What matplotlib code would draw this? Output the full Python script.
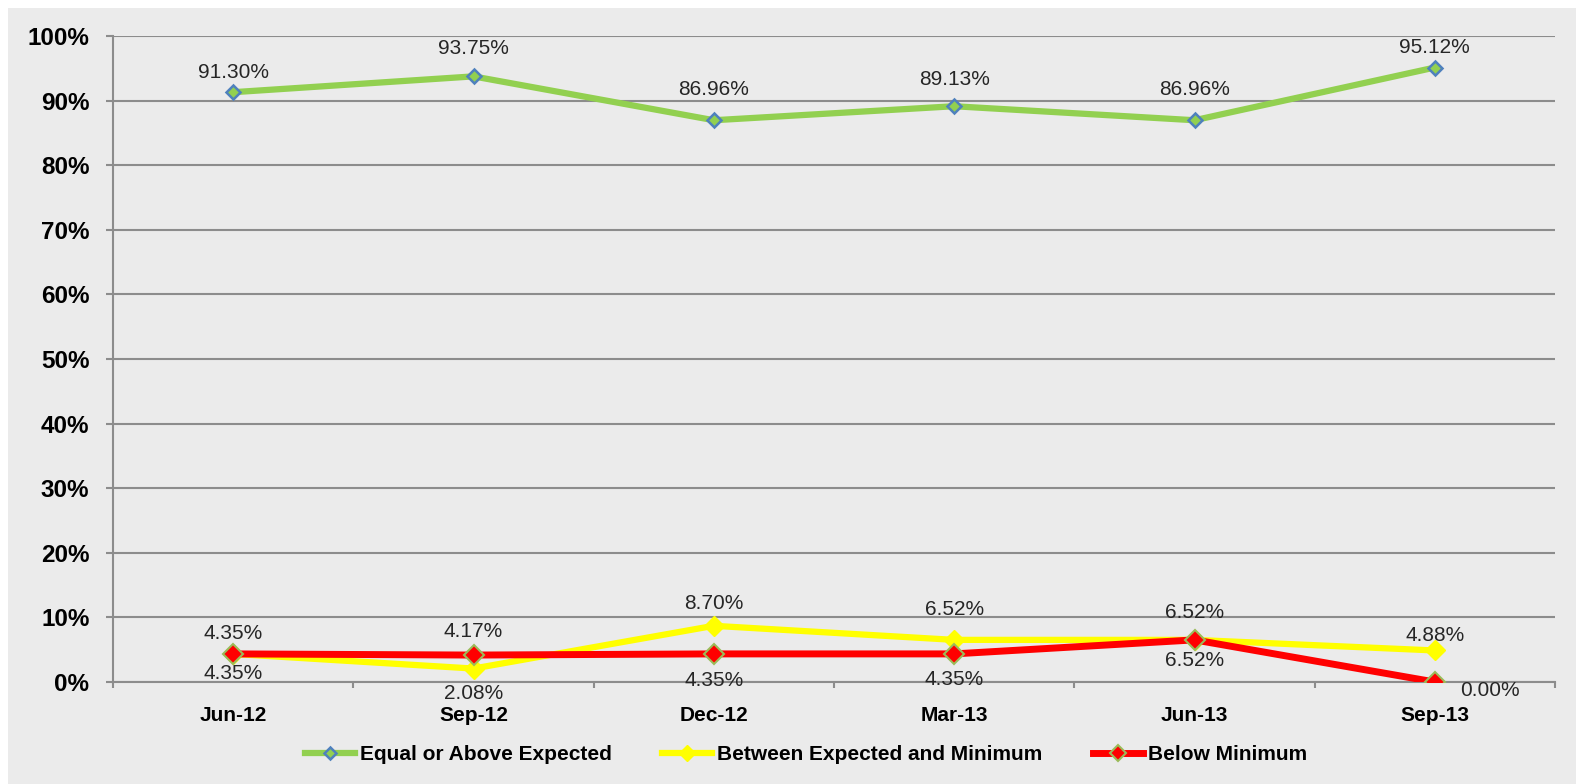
import matplotlib.pyplot as plt
from matplotlib.patches import Rectangle
from matplotlib.ticker import FixedLocator, PercentFormatter

# data (percent)
quarters = ['Jun-12', 'Sep-12', 'Dec-12', 'Mar-13', 'Jun-13', 'Sep-13']
above_expected = [91.30, 93.75, 86.96, 89.13, 86.96, 95.12]
between = [4.35, 2.08, 8.70, 6.52, 6.52, 4.88]
below_min = [4.35, 4.17, 4.35, 4.35, 6.52, 0.00]

# label offsets (pixels) from each point, as placed in the original
above_off = [(0, 20), (0, 28), (0, 31), (0, 27), (0, 31), (0, 20)]
between_off = [(0, -20), (0, -25), (0, 22), (0, 30), (0, 27), (0, 15)]
below_off = [(0, 20), (0, 24), (0, -27), (0, -26), (0, -21), (55, -9)]

plt.rcParams['font.family'] = ['Liberation Sans', 'DejaVu Sans']

bg = '#ebebeb'
grid_col = '#8c8c8c'

fig = plt.figure(figsize=(15.76, 7.84), dpi=100, facecolor='white')
fig.patches.append(Rectangle((8 / 1576, 0), 1, 1 - 8 / 784, transform=fig.transFigure,
                             facecolor=bg, edgecolor='none', zorder=-10))
ax = fig.add_axes([113 / 1576, 102 / 784, 1442 / 1576, 646 / 784])
ax.set_facecolor(bg)

x = list(range(len(quarters)))

ax.plot(x, above_expected, color='#92d050', lw=4.5, marker='D', ms=7.5,
        mfc='#92d050', mec='#4f81bd', mew=1.8, label='Equal or Above Expected', zorder=3)
ax.plot(x, between, color='#ffff00', lw=4.5, marker='D', ms=10,
        mfc='#ffff00', mec='#ffff00', mew=1, label='Between Expected and Minimum', zorder=3)
ax.plot(x, below_min, color='#ff0000', lw=5, marker='D', ms=10,
        mfc='#ff0000', mec='#9bbb59', mew=1.5, label='Below Minimum', zorder=4)

lbl_kw = dict(textcoords='offset pixels', ha='center', va='center',
              fontsize=15, color='#262626', zorder=5)
for vals, offs in [(above_expected, above_off), (between, between_off), (below_min, below_off)]:
    for i, v in enumerate(vals):
        ax.annotate(f'{v:.2f}%', (i, v), xytext=offs[i], **lbl_kw)

ax.set_xlim(-0.5, len(quarters) - 0.5)
ax.set_ylim(0, 100)
ax.yaxis.set_major_locator(FixedLocator(range(0, 101, 10)))
ax.yaxis.set_major_formatter(PercentFormatter(decimals=0))
ax.grid(axis='y', color=grid_col, lw=1.5)
ax.set_axisbelow(True)

ax.set_xticks(x)
ax.set_xticklabels(quarters, fontsize=15, fontweight='bold')
ax.set_xticks([i - 0.5 for i in range(len(quarters) + 1)], minor=True)
ax.tick_params(axis='x', which='major', length=0, pad=17)
ax.tick_params(axis='x', which='minor', length=4.5, width=1.5, color=grid_col)
ax.tick_params(axis='y', length=5, width=1.5, color=grid_col, pad=12)
for t in ax.get_yticklabels():
    t.set_fontsize(17.5)
    t.set_fontweight('bold')

for s in ['top', 'right']:
    ax.spines[s].set_visible(False)
for s in ['left', 'bottom']:
    ax.spines[s].set_color(grid_col)
    ax.spines[s].set_linewidth(1.5)

fig.legend(loc='center', bbox_to_anchor=(806 / 1576, 1 - 755 / 784), ncol=3,
           frameon=False, prop={'size': 15, 'weight': 'bold'},
           handlelength=2.4, handletextpad=0.25, columnspacing=2.4, markerscale=0.8)

fig.savefig('out.png', dpi=100, facecolor='white')
